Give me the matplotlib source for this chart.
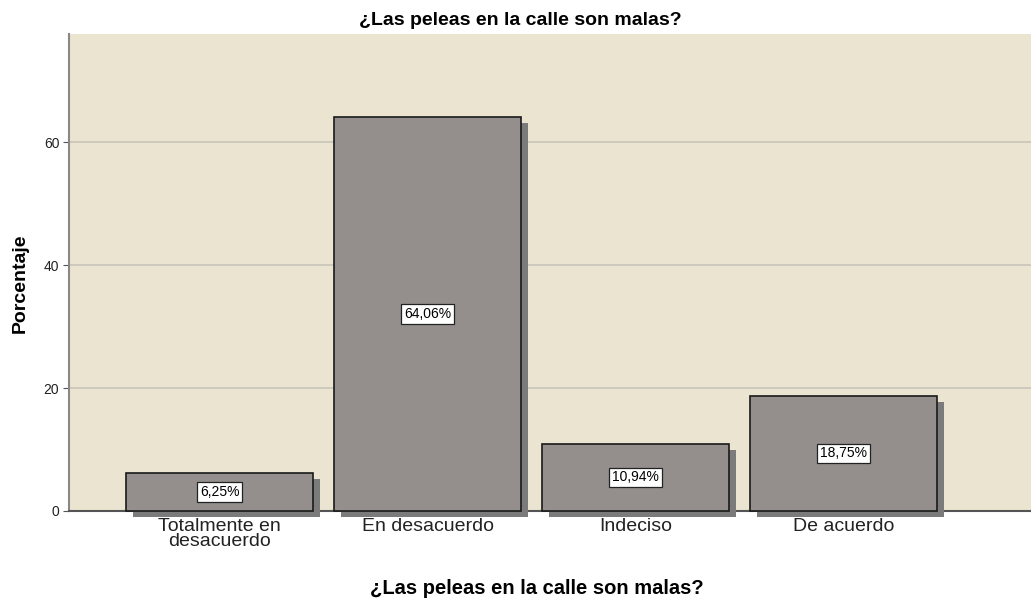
import matplotlib
matplotlib.use("Agg")
import matplotlib.pyplot as plt
import matplotlib.patheffects as pe

categories = ["Totalmente en\ndesacuerdo", "En desacuerdo", "Indeciso", "De acuerdo"]
values = [6.25, 64.06, 10.94, 18.75]
labels = ["6,25%", "64,06%", "10,94%", "18,75%"]
yticks = [0, 20, 40, 60]
title = "¿Las peleas en la calle son malas?"

plt.rcParams['font.family'] = ['Liberation Sans', 'DejaVu Sans']

W, H = 1031, 604
fig = plt.figure(figsize=(W / 100, H / 100), dpi=100)
ax = fig.add_axes([69 / W, (H - 511) / H, 1 - 69 / W, (511 - 34) / H])
ax.set_facecolor("#EAE4D0")

x = list(range(len(categories)))
bars = ax.bar(x, values, width=0.9, color="#948F8D", edgecolor="#1a1a1a",
              linewidth=1.2, zorder=3)
for b in bars:
    b.set_clip_on(False)
    b.set_path_effects([pe.SimplePatchShadow(offset=(5, -4.3), shadow_rgbFace="#7B7B7B", alpha=1.0),
                        pe.Normal()])

for xi, v, lab in zip(x, values, labels):
    ax.text(xi, v / 2, lab, ha="center", va="center", fontsize=10, zorder=5,
            bbox=dict(boxstyle="square,pad=0.2", fc="white", ec="#222222", lw=0.9))

ax.set_xlim(-0.724, 3.901)
ax.set_ylim(0, 77.6)
ax.set_yticks(yticks)
ax.set_yticklabels([str(t) for t in yticks], fontsize=10, color="#222222")
ax.set_xticks(x)
ax.set_xticklabels(categories, fontsize=14, linespacing=0.85, color="#222222")
ax.tick_params(axis="y", length=4, color="#555555", pad=3)
ax.tick_params(axis="x", length=0, pad=5)
ax.yaxis.grid(True, color="#C8C4B8", linewidth=1.2, zorder=0)
ax.set_axisbelow(True)

for s in ["top", "right"]:
    ax.spines[s].set_visible(False)
ax.spines["left"].set_color("#888888")
ax.spines["left"].set_linewidth(1.5)
ax.spines["bottom"].set_color("#555555")
ax.spines["bottom"].set_linewidth(1.5)

fig.text(20 / W, 1 - 283 / H, "Porcentaje", rotation=90, ha="center", va="center",
         fontsize=14, fontweight="bold")
fig.text(520 / W, 1 - 25 / H, title, ha="center", va="baseline", fontsize=14, fontweight="bold")
fig.text(537 / W, 1 - 594 / H, title, ha="center", va="baseline", fontsize=14.5, fontweight="bold")

fig.savefig("out.png", dpi=100)
